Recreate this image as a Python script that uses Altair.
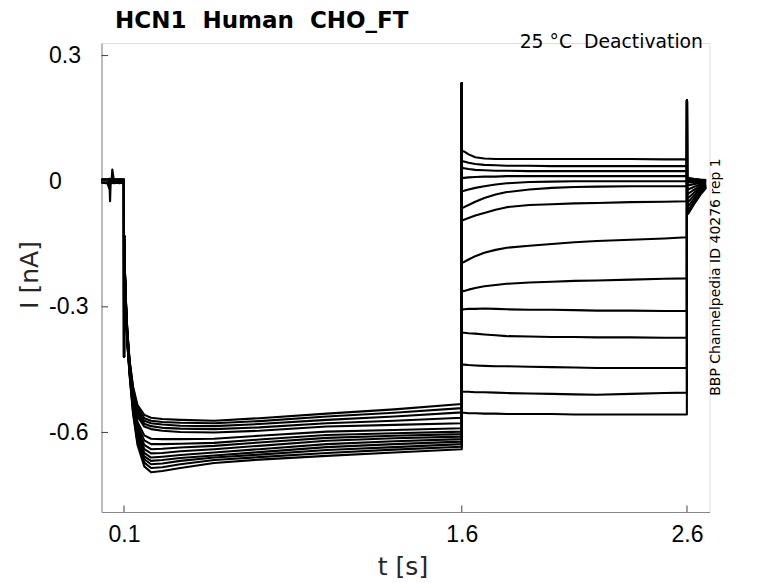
import altair as alt
import pandas as pd

# ---------------- data ----------------
TITLE = "HCN1\u00a0\u00a0Human\u00a0\u00a0CHO_FT"
SUBTITLE = "25 °C\u00a0\u00a0Deactivation"
SOURCE = "BBP Channelpedia ID 40276 rep 1"
XLABEL = "t [s]"
YLABEL = "I [nA]"

x_ticks = [0.1, 1.6, 2.6]
y_ticks = [-0.6, -0.3, 0.0, 0.3]

# holding phase (s)
t_hold = [0.0, 0.02, 0.035, 0.038, 0.041, 0.045, 0.048, 0.055, 0.08, 0.0995]
hold = [
    [0.004, 0.003, 0.002, -0.048, 0.001, 0.003, 0.028, 0.002, 0.003, 0.002],
    [0.003, 0.005, -0.018, 0.004, 0.001, 0.003, 0.004, 0.002, 0.005, 0.003],
    [0.002, 0.000, 0.003, 0.001, 0.002, 0.000, 0.002, 0.003, 0.001, 0.002],
    [0.001, 0.002, -0.001, 0.000, 0.002, 0.001, -0.001, 0.001, 0.000, 0.001],
    [0.000, -0.002, 0.001, -0.001, 0.000, -0.002, 0.001, 0.000, -0.001, 0.000],
    [-0.001, 0.000, -0.002, -0.001, -0.003, 0.000, -0.002, -0.001, 0.000, -0.001],
    [-0.002, -0.001, -0.003, -0.002, -0.001, -0.003, -0.002, -0.004, -0.001, -0.002],
    [-0.003, -0.005, -0.002, -0.004, -0.003, -0.002, -0.004, -0.003, -0.005, -0.003],
    [0.005, 0.004, 0.006, 0.004, 0.005, 0.006, 0.004, 0.005, 0.004, 0.005],
    [-0.004, -0.003, -0.005, -0.004, -0.006, -0.003, -0.004, -0.005, -0.003, -0.004],
    [0.001, 0.003, 0.000, 0.002, 0.001, 0.003, 0.000, 0.002, 0.001, 0.001],
    [-0.001, -0.003, 0.000, -0.002, -0.001, 0.000, -0.003, -0.001, -0.002, -0.001],
    [0.002, 0.001, 0.004, 0.002, 0.003, 0.001, 0.003, 0.002, 0.004, 0.002],
    [-0.002, 0.000, -0.003, -0.001, -0.002, -0.004, -0.001, -0.002, 0.000, -0.002],
]

# capacitive transients (nA)
spike_step = -0.42   # at t = 0.1
spike_tail = 0.234   # at t = 1.6
spike_off = 0.193    # at t = 2.6

# hyperpolarising prepulse
t_pre = [0.1003, 0.103, 0.108, 0.115, 0.125, 0.14, 0.16, 0.19, 0.22, 0.27,
         0.35, 0.5, 0.7, 1.0, 1.3, 1.6]
pre = [
    [-0.13, -0.20, -0.28, -0.36, -0.43, -0.49, -0.535, -0.558, -0.565, -0.568, -0.570, -0.572, -0.566, -0.555, -0.545, -0.532],
    [-0.13, -0.20, -0.28, -0.36, -0.43, -0.495, -0.542, -0.566, -0.572, -0.575, -0.577, -0.578, -0.573, -0.562, -0.553, -0.542],
    [-0.13, -0.20, -0.285, -0.365, -0.435, -0.50, -0.548, -0.572, -0.578, -0.581, -0.584, -0.585, -0.580, -0.570, -0.562, -0.552],
    [-0.13, -0.20, -0.285, -0.365, -0.435, -0.505, -0.555, -0.579, -0.585, -0.589, -0.591, -0.592, -0.588, -0.578, -0.572, -0.565],
    [-0.13, -0.205, -0.29, -0.37, -0.44, -0.51, -0.562, -0.586, -0.592, -0.596, -0.599, -0.600, -0.596, -0.586, -0.582, -0.578],
    [-0.13, -0.205, -0.29, -0.37, -0.445, -0.515, -0.575, -0.607, -0.615, -0.616, -0.616, -0.615, -0.608, -0.598, -0.594, -0.590],
    [-0.13, -0.205, -0.295, -0.375, -0.445, -0.52, -0.583, -0.619, -0.628, -0.628, -0.627, -0.625, -0.617, -0.606, -0.602, -0.598],
    [-0.13, -0.21, -0.295, -0.375, -0.45, -0.525, -0.591, -0.630, -0.640, -0.639, -0.636, -0.632, -0.624, -0.613, -0.608, -0.604],
    [-0.13, -0.21, -0.30, -0.38, -0.45, -0.53, -0.598, -0.640, -0.650, -0.649, -0.645, -0.640, -0.632, -0.620, -0.614, -0.610],
    [-0.13, -0.21, -0.30, -0.38, -0.455, -0.535, -0.605, -0.649, -0.660, -0.658, -0.654, -0.648, -0.640, -0.628, -0.621, -0.616],
    [-0.13, -0.215, -0.305, -0.385, -0.455, -0.54, -0.612, -0.657, -0.668, -0.666, -0.661, -0.655, -0.647, -0.635, -0.628, -0.622],
    [-0.13, -0.215, -0.305, -0.385, -0.46, -0.545, -0.618, -0.664, -0.676, -0.674, -0.668, -0.660, -0.653, -0.642, -0.635, -0.628],
    [-0.13, -0.215, -0.31, -0.39, -0.46, -0.55, -0.624, -0.672, -0.685, -0.683, -0.676, -0.666, -0.659, -0.649, -0.641, -0.634],
    [-0.13, -0.22, -0.31, -0.39, -0.465, -0.555, -0.630, -0.681, -0.695, -0.692, -0.685, -0.673, -0.665, -0.656, -0.648, -0.640],
]

# tail (test) pulses
t_tail = [1.6005, 1.61, 1.63, 1.66, 1.7, 1.75, 1.8, 1.9, 2.0, 2.1, 2.2, 2.35, 2.5, 2.5995]
tail = [
    [0.072, 0.071, 0.064, 0.057, 0.054, 0.053, 0.053, 0.053, 0.053, 0.053, 0.053, 0.053, 0.052, 0.052],
    [0.048, 0.047, 0.044, 0.041, 0.039, 0.038, 0.037, 0.037, 0.036, 0.036, 0.036, 0.036, 0.036, 0.036],
    [0.032, 0.031, 0.029, 0.027, 0.026, 0.025, 0.025, 0.024, 0.024, 0.024, 0.024, 0.024, 0.024, 0.024],
    [0.008, 0.008, 0.009, 0.010, 0.011, 0.011, 0.012, 0.012, 0.012, 0.012, 0.012, 0.012, 0.012, 0.012],
    [-0.024, -0.023, -0.020, -0.016, -0.012, -0.008, -0.005, -0.002, -0.001, 0.0, 0.0, 0.0, 0.0, 0.0],
    [-0.064, -0.062, -0.057, -0.049, -0.040, -0.032, -0.026, -0.020, -0.016, -0.014, -0.013, -0.012, -0.012, -0.012],
    [-0.094, -0.092, -0.088, -0.082, -0.076, -0.068, -0.062, -0.057, -0.055, -0.053, -0.052, -0.050, -0.049, -0.048],
    [-0.195, -0.193, -0.187, -0.179, -0.171, -0.164, -0.159, -0.154, -0.150, -0.146, -0.143, -0.140, -0.137, -0.134],
    [-0.263, -0.262, -0.259, -0.255, -0.251, -0.248, -0.245, -0.242, -0.240, -0.238, -0.237, -0.235, -0.233, -0.232],
    [-0.306, -0.306, -0.305, -0.305, -0.304, -0.305, -0.306, -0.307, -0.307, -0.308, -0.309, -0.309, -0.310, -0.310],
    [-0.362, -0.362, -0.363, -0.364, -0.366, -0.368, -0.370, -0.371, -0.372, -0.372, -0.373, -0.373, -0.374, -0.374],
    [-0.438, -0.438, -0.439, -0.440, -0.441, -0.442, -0.442, -0.443, -0.444, -0.445, -0.446, -0.446, -0.446, -0.446],
    [-0.503, -0.503, -0.503, -0.504, -0.504, -0.505, -0.506, -0.507, -0.508, -0.509, -0.510, -0.508, -0.506, -0.505],
    [-0.553, -0.553, -0.554, -0.554, -0.555, -0.555, -0.556, -0.556, -0.556, -0.557, -0.557, -0.557, -0.557, -0.557],
]

# back to holding
t_post = [2.6005, 2.605, 2.63, 2.66, 2.685]
post = [
    [0.010, 0.008, 0.006, 0.004, 0.003],
    [0.008, 0.006, 0.005, 0.003, 0.002],
    [0.006, 0.004, 0.003, 0.002, 0.001],
    [0.004, 0.002, 0.001, 0.001, 0.0],
    [0.002, 0.0, 0.0, 0.0, 0.0],
    [0.0, -0.003, -0.002, -0.001, -0.001],
    [-0.005, -0.010, -0.007, -0.004, -0.002],
    [-0.012, -0.020, -0.014, -0.008, -0.004],
    [-0.020, -0.030, -0.021, -0.012, -0.006],
    [-0.028, -0.040, -0.028, -0.016, -0.008],
    [-0.036, -0.050, -0.035, -0.020, -0.010],
    [-0.044, -0.060, -0.042, -0.024, -0.012],
    [-0.052, -0.070, -0.049, -0.028, -0.014],
    [-0.060, -0.078, -0.056, -0.032, -0.016],
]

# ---------------- build long table ----------------
rows = []
for i in range(len(pre)):
    seq = list(zip(t_hold, hold[i]))
    seq.append((0.1, spike_step))
    seq += list(zip(t_pre, pre[i]))
    seq.append((1.6, spike_tail))
    seq += list(zip(t_tail, tail[i]))
    seq.append((2.6, spike_off))
    seq += list(zip(t_post, post[i]))
    for k, (t, v) in enumerate(seq):
        rows.append({"trace": i, "k": k, "t": t, "I": v})
df = pd.DataFrame(rows)

W, H = 608, 469
FONT = "DejaVu Sans"
xs = alt.Scale(domain=[0, 2.7], nice=False, zero=False)
ys = alt.Scale(domain=[-0.79, 0.33], nice=False, zero=False)

lines = alt.Chart(df).mark_line(color="black", strokeWidth=2.1, strokeJoin="round").encode(
    x=alt.X("t:Q", scale=xs,
            axis=alt.Axis(values=x_ticks, format=".1f", title=None, ticks=False, tickSize=0,
                          labelPadding=11, grid=False, labelFontSize=23)),
    y=alt.Y("I:Q", scale=ys,
            axis=alt.Axis(values=y_ticks, title=None, ticks=False, tickSize=0, grid=False,
                          labelPadding=53, labelAlign="left", labelFontSize=23,
                          labelExpr="datum.value == 0 ? '0' : (datum.value < 0 ? '-' + format(-datum.value, '.1f') : format(datum.value, '.1f'))")),
    detail="trace:N",
    order="k:Q",
)

ytick = alt.Chart(pd.DataFrame({"v": y_ticks})).mark_rule(color="#404040", strokeWidth=1).encode(
    y=alt.Y("v:Q", scale=ys), x=alt.value(0), x2=alt.value(6.5))
xtick = alt.Chart(pd.DataFrame({"v": x_ticks})).mark_rule(color="#404040", strokeWidth=1).encode(
    x=alt.X("v:Q", scale=xs), y=alt.value(H), y2=alt.value(H - 6.5))


def txt(s, x, y, size, weight="normal", align="center", baseline="middle", angle=0, color="#262626"):
    return alt.Chart(pd.DataFrame({"s": [s]})).mark_text(
        font=FONT, fontSize=size, fontWeight=weight, align=align, baseline=baseline,
        angle=angle, color=color).encode(text="s:N", x=alt.value(x), y=alt.value(y))


title = txt(TITLE, 13.5, -15.5, 23, weight="bold", align="left", baseline="alphabetic", color="black")
sub = txt(SUBTITLE, 601.5, 4.5, 18.8, align="right", baseline="alphabetic", color="black")
src = txt(SOURCE, 614.5, 234, 14, angle=270, color="black")
xt = txt(XLABEL, 301.5, 524, 25)
yt = txt(YLABEL, -71.5, 232, 25, angle=270)

chart = alt.layer(lines, ytick, xtick, title, sub, src, xt, yt).properties(
    width=W, height=H,
    autosize=alt.AutoSizeParams(type="none"),
    padding={"left": 93.5, "top": 35, "right": 60, "bottom": 68},
).configure_view(stroke=None).configure_axis(
    domainColor="#404040", domainWidth=1, labelColor="#262626", labelFont=FONT,
).configure(background="white")

chart.save("out.html", embed_options={"renderer": "svg", "actions": False})
